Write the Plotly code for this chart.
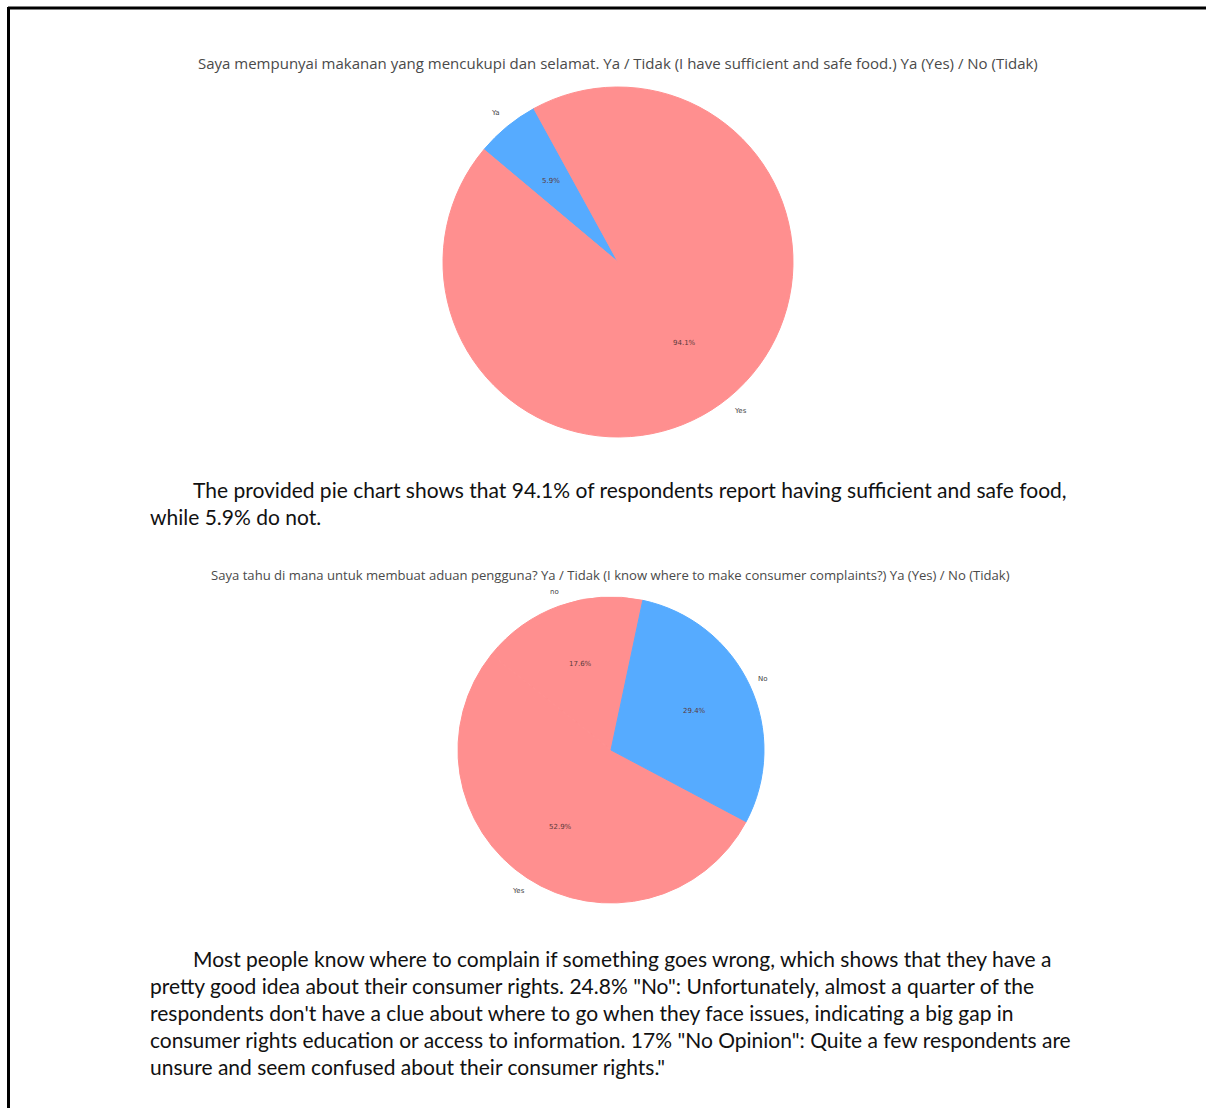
import math
import plotly.graph_objects as go

W, H = 1206, 1108

# ---- survey data ----
food_title = "Saya mempunyai makanan yang mencukupi dan selamat. Ya / Tidak (I have sufficient and safe food.) Ya (Yes) / No (Tidak)"
food_labels = ["Ya", "Yes"]
food_values = [5.9, 94.1]

complaint_title = "Saya tahu di mana untuk membuat aduan pengguna? Ya / Tidak (I know where to make consumer complaints?) Ya (Yes) / No (Tidak)"
complaint_labels = ["no", "Yes", "No"]
complaint_values = [17.6, 52.9, 29.4]

food_text = [
    "The provided pie chart shows that 94.1% of respondents report having sufficient and safe food,",
    "while 5.9% do not.",
]
complaint_text = [
    "Most people know where to complain if something goes wrong, which shows that they have a",
    "pretty good idea about their consumer rights. 24.8% \"No\": Unfortunately, almost a quarter of the",
    "respondents don't have a clue about where to go when they face issues, indicating a big gap in",
    "consumer rights education or access to information. 17% \"No Opinion\": Quite a few respondents are",
    "unsure and seem confused about their consumer rights.\"",
]

PINK = "#ff8f8f"
BLUE = "#56abff"

food_colors = [BLUE, PINK]
complaint_colors = [PINK, PINK, BLUE]


def px(x):
    return x / W


def py(y):
    return 1 - y / H


fig = go.Figure()
annotations = []

# pie layout: centre (pixels), radius, start angle (deg, counter-clockwise from +x),
# direction, and title size/position
pies = [
    dict(labels=food_labels, values=food_values, colors=food_colors,
         cx=618, cy=262, r=175, start=140.0, ccw=False,
         title=food_title, tx=617.5, ty=63, tsize=15.0),
    dict(labels=complaint_labels, values=complaint_values, colors=complaint_colors,
         cx=611, cy=750, r=153, start=78.0, ccw=True,
         title=complaint_title, tx=610.5, ty=575, tsize=13.1),
]

for p in pies:
    cx, cy, r = p["cx"], p["cy"], p["r"]
    total = sum(p["values"])
    # plotly's rotation is clockwise from 12 o'clock; for counter-clockwise pies
    # it marks the end of the first slice, so shift by that slice's sweep
    rotation = 90 - p["start"]
    if p["ccw"]:
        rotation -= 360 * p["values"][0] / total
    fig.add_trace(go.Pie(
        labels=p["labels"], values=p["values"],
        # outline each slice in its own colour so same-coloured neighbours show no seam
        marker=dict(colors=p["colors"], line=dict(color=p["colors"], width=1)),
        sort=False, direction="counterclockwise" if p["ccw"] else "clockwise",
        rotation=rotation, textinfo="none", showlegend=False,
        domain=dict(x=[px(cx - r), px(cx + r)], y=[py(cy + r), py(cy - r)]),
    ))
    acc = 0.0
    sgn = 1 if p["ccw"] else -1
    for lab, val in zip(p["labels"], p["values"]):
        mid = p["start"] + sgn * 360 * (acc + val / 2) / total
        acc += val
        a = math.radians(mid)
        for k, txt, col in ((1.1, lab, "#444444"), (0.6, f"{val:.1f}%", "#5a3a3a")):
            annotations.append(dict(
                x=px(cx + k * r * math.cos(a)), y=py(cy - k * r * math.sin(a)),
                xref="paper", yref="paper", text=txt, showarrow=False,
                font=dict(family="DejaVu Sans", size=7, color=col),
                xanchor="center", yanchor="middle",
            ))
    annotations.append(dict(
        x=px(p["tx"]), y=py(p["ty"]), xref="paper", yref="paper", text=p["title"],
        showarrow=False, font=dict(family="Open Sans", size=p["tsize"], color="#4a4a4a"),
        xanchor="center", yanchor="middle",
    ))

# body paragraphs
BODY_FONT = dict(family="Lato", size=21, color="#111111")
for lines, y0 in ((food_text, 489), (complaint_text, 958)):
    for i, line in enumerate(lines):
        annotations.append(dict(
            x=px(191 if i == 0 else 148), y=py(y0 + 27 * i),
            xref="paper", yref="paper", text=line, showarrow=False,
            font=BODY_FONT, xanchor="left", yanchor="middle",
        ))

# page frame
shapes = [
    dict(type="line", xref="paper", yref="paper", x0=px(8), x1=px(1206), y0=py(8), y1=py(8),
         line=dict(color="black", width=3)),
    dict(type="line", xref="paper", yref="paper", x0=px(8.5), x1=px(8.5), y0=py(7), y1=py(1108),
         line=dict(color="black", width=3)),
]

fig.update_layout(
    width=W, height=H, margin=dict(l=0, r=0, t=0, b=0),
    paper_bgcolor="white", plot_bgcolor="white",
    annotations=annotations, shapes=shapes,
)

fig.write_html("out.html")
